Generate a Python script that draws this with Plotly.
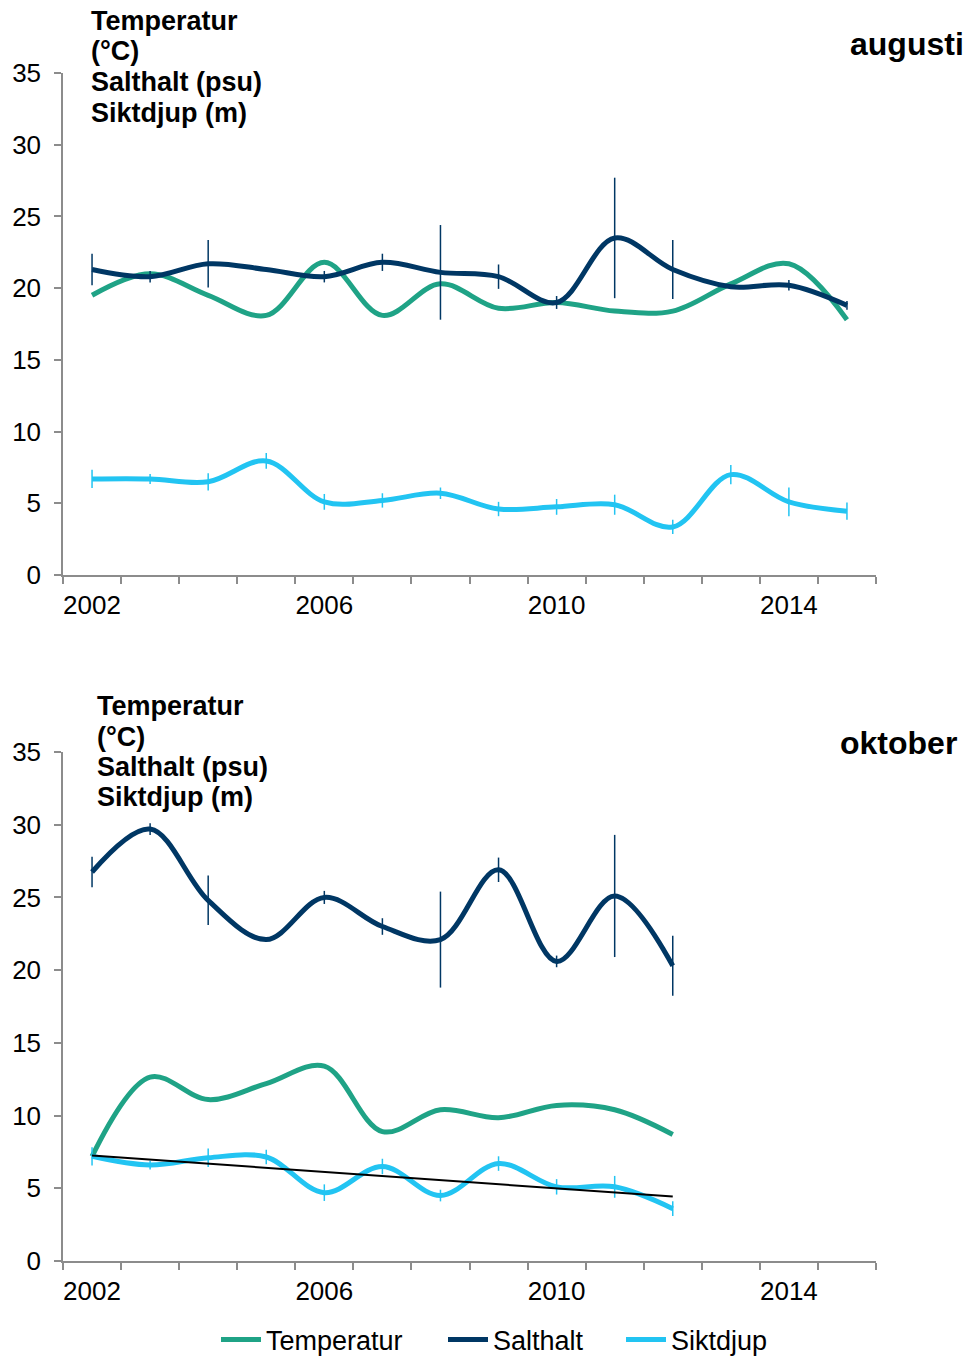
import numpy as np
import plotly.graph_objects as go
from plotly.subplots import make_subplots

# ---------------- data ----------------
years_aug = [2002, 2003, 2004, 2005, 2006, 2007, 2008, 2009, 2010, 2011, 2012, 2013, 2014, 2015]
years_okt = [2002, 2003, 2004, 2005, 2006, 2007, 2008, 2009, 2010, 2011, 2012]

temp_aug = [19.5, 21.0, 19.5, 18.1, 21.8, 18.1, 20.3, 18.6, 19.0, 18.4, 18.4, 20.3, 21.7, 17.8]
salt_aug = [21.3, 20.8, 21.7, 21.3, 20.8, 21.8, 21.1, 20.8, 19.0, 23.5, 21.3, 20.1, 20.2, 18.8]
salt_aug_err = [1.1, 0.4, 1.65, 0.0, 0.4, 0.6, 3.3, 0.85, 0.45, 4.2, 2.05, 0.0, 0.37, 0.3]
sikt_aug = [6.7, 6.7, 6.5, 7.95, 5.1, 5.2, 5.7, 4.6, 4.75, 4.9, 3.35, 7.0, 5.1, 4.45]
sikt_aug_err = [0.63, 0.35, 0.6, 0.55, 0.55, 0.5, 0.4, 0.5, 0.55, 0.7, 0.5, 0.67, 1.0, 0.6]

temp_okt = [7.2, 12.65, 11.1, 12.2, 13.4, 8.9, 10.4, 9.85, 10.7, 10.4, 8.7]
salt_okt = [26.75, 29.7, 24.8, 22.1, 25.0, 23.0, 22.1, 26.9, 20.6, 25.1, 20.3]
salt_okt_err = [1.05, 0.4, 1.7, 0.0, 0.45, 0.57, 3.3, 0.84, 0.4, 4.2, 2.06]
sikt_okt = [7.2, 6.6, 7.1, 7.15, 4.7, 6.5, 4.5, 6.7, 5.1, 5.1, 3.6]
sikt_okt_err = [0.63, 0.3, 0.63, 0.5, 0.57, 0.53, 0.4, 0.5, 0.53, 0.75, 0.5]

series_names = ["Temperatur", "Salthalt", "Siktdjup"]
title_lines = ["Temperatur", "(°C)", "Salthalt (psu)", "Siktdjup (m)"]
panel_titles = ["augusti", "oktober"]
x_tick_labels = [2002, 2006, 2010, 2014]
y_ticks = [0, 5, 10, 15, 20, 25, 30, 35]

# ---------------- styling ----------------
C_TEMP = "#1fa386"
C_SALT = "#003764"
C_SIKT = "#22c4f2"
AXIS_GRAY = "#8c8c8c"
FONT = "Liberation Sans, Arial, sans-serif"
LEGEND_WIDTHS = [172, 123, 0]

W, H = 969, 1356
ML, MR, MT, MB = 63, W - 876, 73, H - 1261
PH = H - MT - MB
PW = W - ML - MR


def py(p):
    return (H - MB - p) / PH


def px(p):
    return (p - ML) / PW


fig = make_subplots(rows=2, cols=1, shared_xaxes=False)
fig.update_layout(
    yaxis=dict(domain=[py(575), py(73)]),
    yaxis2=dict(domain=[py(1261), py(752)]),
)


def add_panel(row, years, temp, salt, salt_err, sikt, sikt_err, show):
    fig.add_trace(go.Scatter(
        x=years, y=temp, name=series_names[0], mode="lines",
        line=dict(color=C_TEMP, width=5, shape="spline", smoothing=1.0),
        showlegend=show, legendgroup="t", legendwidth=LEGEND_WIDTHS[0]), row=row, col=1)
    fig.add_trace(go.Scatter(
        x=years, y=salt, name=series_names[1], mode="lines",
        line=dict(color=C_SALT, width=5, shape="spline", smoothing=1.0),
        error_y=dict(type="data", array=salt_err, visible=True, color=C_SALT,
                     thickness=1.5, width=0),
        showlegend=show, legendgroup="s", legendwidth=LEGEND_WIDTHS[1]), row=row, col=1)
    fig.add_trace(go.Scatter(
        x=years, y=sikt, name=series_names[2], mode="lines",
        line=dict(color=C_SIKT, width=5, shape="spline", smoothing=1.0),
        error_y=dict(type="data", array=sikt_err, visible=True, color=C_SIKT,
                     thickness=1.5, width=0),
        showlegend=show, legendgroup="k", legendwidth=LEGEND_WIDTHS[2]), row=row, col=1)


add_panel(1, years_aug, temp_aug, salt_aug, salt_aug_err, sikt_aug, sikt_aug_err, False)
add_panel(2, years_okt, temp_okt, salt_okt, salt_okt_err, sikt_okt, sikt_okt_err, True)

# linear trendline for Siktdjup (oktober)
coef = np.polyfit(years_okt, sikt_okt, 1)
trend_x = [years_okt[0], years_okt[-1]]
trend_y = list(np.polyval(coef, trend_x))
fig.add_trace(go.Scatter(x=trend_x, y=trend_y, mode="lines",
                         line=dict(color="black", width=2), showlegend=False,
                         hoverinfo="skip"), row=2, col=1)

xaxis_style = dict(
    range=[2001.5, 2015.5], automargin=False,
    tickmode="array", tickvals=x_tick_labels, ticktext=[str(v) for v in x_tick_labels],
    ticks="", showgrid=False, zeroline=False,
    showline=True, linecolor=AXIS_GRAY, linewidth=1.5,
    tickfont=dict(family=FONT, size=26, color="black"),
    ticklabelstandoff=6,
    minor=dict(tickmode="linear", tick0=2001.5, dtick=1, ticks="outside",
               ticklen=7, tickcolor=AXIS_GRAY, tickwidth=1.5, showgrid=False),
)
yaxis_style = dict(
    range=[0, 35], tickmode="array", tickvals=y_ticks, automargin=False,
    ticks="outside", ticklen=7, tickcolor=AXIS_GRAY, tickwidth=1.5,
    showgrid=False, zeroline=False,
    showline=True, linecolor=AXIS_GRAY, linewidth=1.5,
    tickfont=dict(family=FONT, size=26, color="black"),
    ticklabelstandoff=8,
)
fig.update_xaxes(**xaxis_style)
fig.update_yaxes(**yaxis_style)

annotations = []
for centers, xl in [((21, 51, 82, 113), 89), ((706, 737, 767, 797), 95)]:
    for line, cy in zip(title_lines, centers):
        annotations.append(dict(
            text=f"<b>{line}</b>", xref="paper", yref="paper",
            x=px(xl), y=py(cy), xanchor="left", yanchor="middle",
            showarrow=False, font=dict(family=FONT, size=27, color="black")))
for name, xr, cy in [(panel_titles[0], 966, 44), (panel_titles[1], 959, 743)]:
    annotations.append(dict(
        text=f"<b>{name}</b>", xref="paper", yref="paper",
        x=px(xr), y=py(cy), xanchor="right", yanchor="middle",
        showarrow=False, font=dict(family=FONT, size=32, color="black")))

fig.update_layout(
    width=W, height=H,
    margin=dict(l=ML, r=MR, t=MT, b=MB, autoexpand=False),
    paper_bgcolor="white", plot_bgcolor="white",
    annotations=annotations,
    showlegend=True,
    legend=dict(orientation="h", x=px(216), xanchor="left",
                y=py(1340), yanchor="middle",
                font=dict(family=FONT, size=27, color="black"),
                itemwidth=40, tracegroupgap=0, bgcolor="rgba(0,0,0,0)"),
)

fig.write_html(
    "out.html",
    config={"displayModeBar": False},
    post_script="document.body.style.margin='0';document.body.style.overflow='hidden';",
)
